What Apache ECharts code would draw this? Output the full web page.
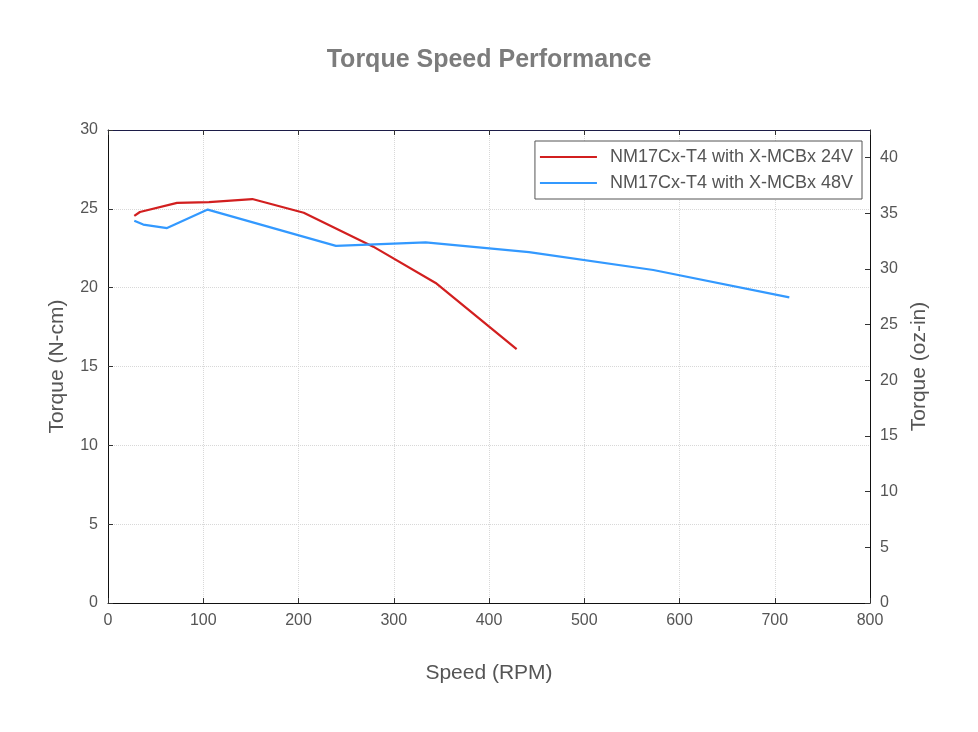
<!DOCTYPE html>
<html>
<head>
<meta charset="utf-8">
<script src="https://cdn.jsdelivr.net/npm/echarts@6/dist/echarts.min.js"></script>
<style>
  html, body { margin: 0; padding: 0; background: #fff; }
  #main { width: 978px; height: 732px; }
</style>
</head>
<body>
<div id="main"></div>
<script>
// speed (RPM) / torque (N-cm)
var speed24 = [27.6, 33.5, 72.5, 106, 151.5, 205.5, 278.5, 344, 429];
var torque24 = [24.55, 24.8, 25.38, 25.42, 25.62, 24.75, 22.6, 20.3, 16.1];
var speed48 = [27.6, 37, 62, 104.7, 239.3, 333.5, 442, 572.5, 715.3];
var torque48 = [24.25, 24.0, 23.78, 24.95, 22.65, 22.87, 22.25, 21.12, 19.38];

var name24 = "NM17Cx-T4 with X-MCBx 24V";
var name48 = "NM17Cx-T4 with X-MCBx 48V";

// 1 N-cm = 1.416 oz-in
var nToOz = 1.416;
var torqueMax = 30;

function pairs(xs, ys) {
    var out = [];
    for (var i = 0; i < xs.length; i++) out.push([xs[i], ys[i]]);
    return out;
}

var font = "'Liberation Sans', Arial, sans-serif";
var labelColor = "#555";
var gridLine = { show: true, lineStyle: { color: "#d8d8d8", type: "dotted", width: 1 } };
var tick = { show: true, inside: true, length: 5, lineStyle: { color: "#333" } };

var myChart = echarts.init(document.getElementById("main"));
myChart.setOption({
    backgroundColor: "#fff",
    animation: false,
    textStyle: { fontFamily: font },
    title: {
        text: "Torque Speed Performance",
        left: "center",
        top: 43,
        textStyle: { fontSize: 25, fontWeight: "bold", color: "#7c7c7c", fontFamily: font }
    },
    legend: {
        data: [name24, name48],
        orient: "vertical",
        right: 116,
        top: 141,
        backgroundColor: "#fff",
        borderColor: "#555",
        borderWidth: 1,
        borderRadius: 0,
        padding: [7, 9, 7, 5],
        icon: "rect",
        itemWidth: 57,
        itemHeight: 2,
        itemGap: 8,
        textStyle: { fontSize: 18, color: labelColor, fontFamily: font, padding: [0, 0, 0, 8], lineHeight: 18 }
    },
    grid: { left: 108, right: 108, top: 130, bottom: 129 },
    xAxis: [{
        type: "value",
        min: 0,
        max: 800,
        interval: 100,
        name: "Speed (RPM)",
        nameLocation: "middle",
        nameGap: 60,
        nameTextStyle: { fontSize: 21, color: labelColor },
        axisLine: { show: true, onZero: false, lineStyle: { color: "#111", width: 1 } },
        axisTick: tick,
        axisLabel: { fontSize: 16, color: labelColor, margin: 10 },
        splitLine: gridLine
    }, {
        type: "value",
        position: "top",
        min: 0,
        max: 800,
        interval: 100,
        axisLine: { show: true, onZero: false, lineStyle: { color: "#1c1c48", width: 1 } },
        axisTick: tick,
        axisLabel: { show: false },
        splitLine: { show: false }
    }],
    yAxis: [{
        type: "value",
        min: 0,
        max: torqueMax,
        interval: 5,
        name: "Torque (N-cm)",
        nameLocation: "middle",
        nameGap: 40,
        nameTextStyle: { fontSize: 21, color: labelColor },
        axisLine: { show: true, onZero: false, lineStyle: { color: "#111", width: 1 } },
        axisTick: tick,
        axisLabel: { fontSize: 16, color: labelColor, margin: 10 },
        splitLine: gridLine
    }, {
        type: "value",
        position: "right",
        min: 0,
        max: torqueMax * nToOz,
        interval: 5,
        name: "Torque (oz-in)",
        nameLocation: "middle",
        nameGap: 37,
        nameTextStyle: { fontSize: 21, color: labelColor },
        axisLine: { show: true, onZero: false, lineStyle: { color: "#111", width: 1 } },
        axisTick: tick,
        axisLabel: { fontSize: 16, color: labelColor, margin: 10, showMaxLabel: false },
        splitLine: { show: false }
    }],
    series: [{
        name: name24,
        type: "line",
        data: pairs(speed24, torque24),
        showSymbol: false,
        symbol: "none",
        lineStyle: { color: "#d21f1f", width: 2.2 },
        itemStyle: { color: "#d21f1f" }
    }, {
        name: name48,
        type: "line",
        data: pairs(speed48, torque48),
        showSymbol: false,
        symbol: "none",
        lineStyle: { color: "#3399ff", width: 2.2 },
        itemStyle: { color: "#3399ff" }
    }]
});
</script>
</body>
</html>
